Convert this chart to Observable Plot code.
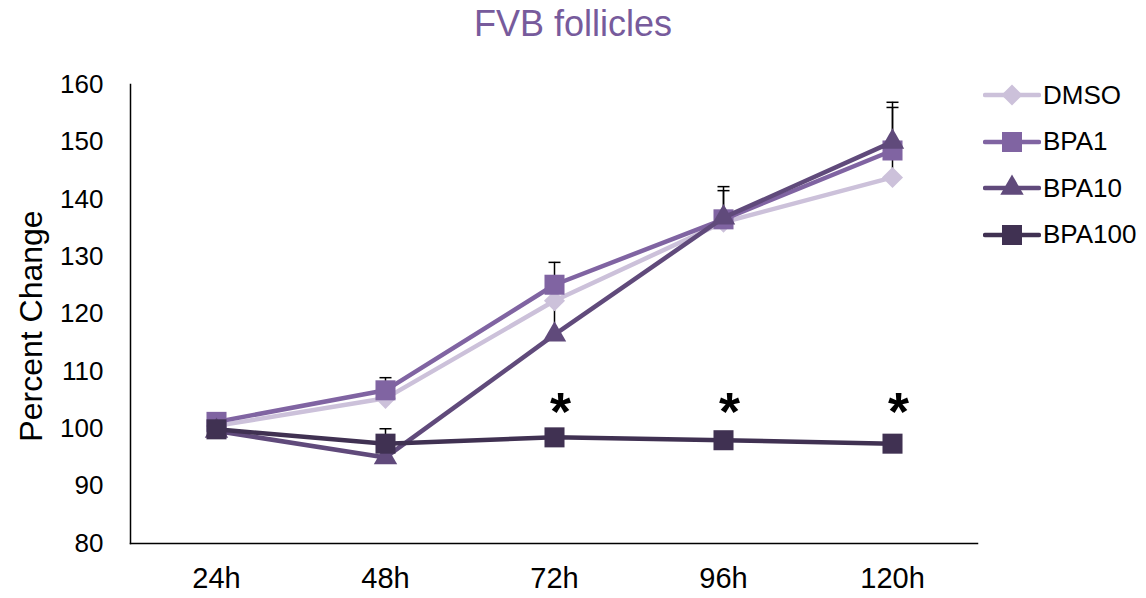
<!DOCTYPE html>
<html><head><meta charset="utf-8">
<script src="https://cdn.jsdelivr.net/npm/d3@7"></script>
<script src="https://cdn.jsdelivr.net/npm/@observablehq/plot@0.6"></script>
<style>
body{margin:0;background:#fff;font-family:"Liberation Sans",Arial,sans-serif;}
#wrap{position:relative;width:1146px;height:598px;overflow:hidden;}
#title{height:50px;line-height:48px;text-align:center;font-size:36px;color:#775b9c;}
#legend{position:absolute;left:983px;top:72px;}
.row{height:46.5px;display:flex;align-items:center;font-size:26px;color:#000;}
.row svg{margin-right:2px;}
</style></head><body>
<div id="wrap"><div id="title">FVB follicles</div><div id="chart"></div><div id="legend"></div></div>
<script>
// ---- data ----
const times = ["24h", "48h", "72h", "96h", "120h"];
const series = ["DMSO", "BPA1", "BPA10", "BPA100"];
const dmso   = [100.5, 105.3, 122.3, 136.0, 143.8];
const bpa1   = [101.2, 106.7, 125.1, 136.5, 148.5];
const bpa10  = [99.6, 95.0, 116.4, 136.8, 150.0];
const bpa100 = [99.9, 97.4, 98.5, 98.0, 97.4];
// upper error bars (0 = none visible)
const dmsoErr   = [0, 0, 0, 0, 12.2];
const bpa1Err   = [0, 2.2, 3.9, 5.7, 0];
const bpa10Err  = [0, 0, 5.5, 4.7, 6.9];
const bpa100Err = [0, 2.6, 0, 0, 0];
const sigTimes = ["72h", "96h", "120h"];
const sigValue = 104.5;
const yTicks = [80, 90, 100, 110, 120, 130, 140, 150, 160];

// ---- styles ----
const colors = ["#ccc1da", "#8064a2", "#604a7b", "#403152"];
const symbols = ["diamond2", "square", "triangle", "square"];
const d3symbols = [d3.symbolDiamond2, d3.symbolSquare, d3.symbolTriangle, d3.symbolSquare];
const radii = [9.5, 11.3, 8.7, 11.3];

const values = [dmso, bpa1, bpa10, bpa100];
const errs = [dmsoErr, bpa1Err, bpa10Err, bpa100Err];
const rows = series.flatMap((s, i) => times.map((t, j) => ({series: s, time: t, value: values[i][j], err: errs[i][j]})));
const errRows = rows.filter(d => d.err > 0);
const capSymbol = {draw(ctx, size) { ctx.moveTo(-6, 0); ctx.lineTo(6, 0); }};

const chart = Plot.plot({
  width: 1146, height: 548,
  marginLeft: 130, marginRight: 169, marginTop: 34, marginBottom: 55,
  style: {fontFamily: "'Liberation Sans', Arial, sans-serif", fontSize: "26px", color: "#000", background: "#fff"},
  x: {type: "point", domain: times, padding: 0.5},
  y: {domain: [80, 160]},
  marks: [
    Plot.axisY({ticks: yTicks, tickSize: 0, tickPadding: 27, label: null}),
    Plot.axisX({tickSize: 0, tickPadding: 24, label: null, fontSize: 29}),
    Plot.text(["Percent Change"], {frameAnchor: "left", rotate: -90, textAnchor: "middle", dx: -99, dy: 12, fontSize: 32}),
    Plot.ruleX(errRows, {x: "time", y1: "value", y2: d => d.value + d.err, stroke: "#000", strokeWidth: 1.5}),
    Plot.dot(errRows, {x: "time", y: d => d.value + d.err, symbol: capSymbol, stroke: "#000", fill: "none", strokeWidth: 1.5, r: 5}),
    ...series.flatMap((s, i) => [
      Plot.line(rows.filter(d => d.series === s), {x: "time", y: "value", stroke: colors[i], strokeWidth: 4.5}),
      Plot.dot(rows.filter(d => d.series === s), {x: "time", y: "value", symbol: symbols[i], fill: colors[i], stroke: "none", r: radii[i]})
    ]),
    Plot.text(sigTimes, {x: d => d, y: () => sigValue, text: () => "*", fontSize: 54, fontWeight: "bold", dx: 6, dy: 10}),
    Plot.frame({anchor: "left", strokeWidth: 1.5}),
    Plot.frame({anchor: "bottom", strokeWidth: 1.5})
  ]
});
document.getElementById("chart").appendChild(chart);

// legend
const legend = d3.select("#legend");
series.forEach((s, i) => {
  const row = legend.append("div").attr("class", "row");
  const svg = row.append("svg").attr("width", 58).attr("height", 30);
  svg.append("line").attr("x1", 2).attr("x2", 56).attr("y1", 15).attr("y2", 15)
    .attr("stroke", colors[i]).attr("stroke-width", 4.5).attr("stroke-linecap", "round");
  svg.append("path").attr("transform", "translate(29,15)")
    .attr("d", d3.symbol(d3symbols[i], Math.PI * radii[i] * radii[i])()).attr("fill", colors[i]);
  row.append("span").text(s);
});
</script>
</body></html>
